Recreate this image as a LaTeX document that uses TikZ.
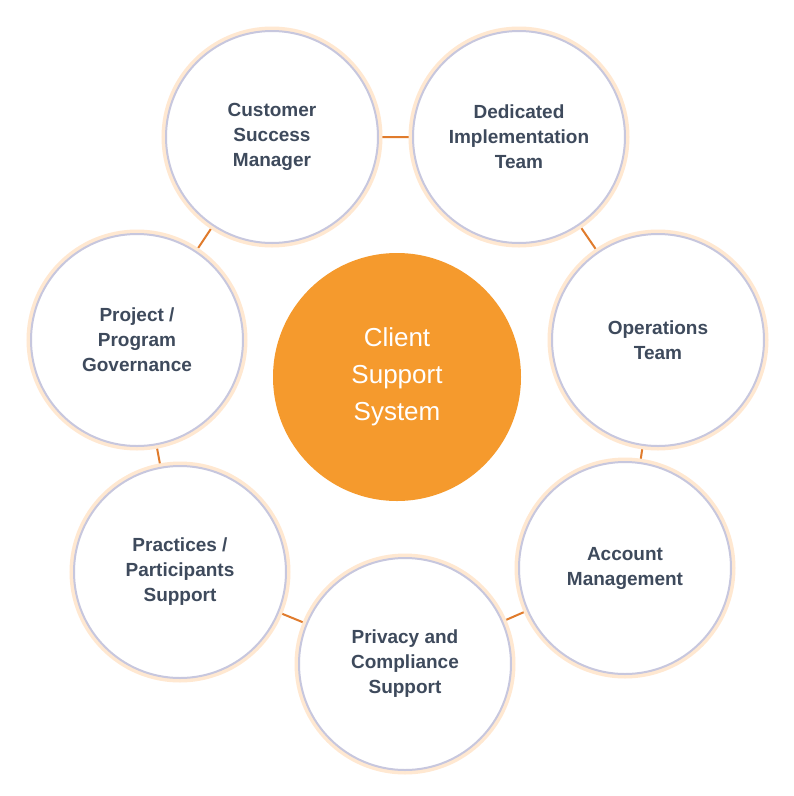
\documentclass[tikz,border=0pt]{standalone}
\usepackage{fontspec}
\setmainfont{Liberation Sans}
\begin{document}
\begin{tikzpicture}[x=1pt,y=-1pt,
  outer/.style={circle,minimum size=212pt,inner sep=0pt,fill=white,draw=blue!25!gray!35,line width=2pt,
    align=center,font=\bfseries\fontsize{19}{25}\selectfont,text=textc,
    preaction={draw=orange!18,line width=9pt}},
  link/.style={draw=linkc,line width=2pt}]
\definecolor{textc}{HTML}{3E4A5C}
\definecolor{linkc}{HTML}{E07B2C}
\definecolor{centc}{HTML}{F59A2D}
\useasboundingbox (0,0) rectangle (794,796);
\fill[white] (0,0) rectangle (794,796);
\coordinate (c1) at (272,137);
\coordinate (c2) at (519,137);
\coordinate (c3) at (658,340);
\coordinate (c4) at (625,568);
\coordinate (c5) at (405,664);
\coordinate (c6) at (180,572);
\coordinate (c7) at (137,340);
\draw[link] (c1)--(c2)--(c3)--(c4)--(c5)--(c6)--(c7)--cycle;
\node[outer] (n1) at (c1) {Customer\\Success\\Manager};
\node[outer] (n2) at (c2) {Dedicated\\Implementation\\Team};
\node[outer] (n3) at (c3) {Operations\\Team};
\node[outer] (n4) at (c4) {Account\\Management};
\node[outer] (n5) at (c5) {Privacy and\\Compliance\\Support};
\node[outer] (n6) at (c6) {Practices /\\Participants\\Support};
\node[outer] (n7) at (c7) {Project /\\Program\\Governance};
\node[circle,fill=centc,minimum size=248pt,inner sep=0pt,align=center,text=white,
  font=\fontsize{26}{37}\selectfont] (ctr) at (397,377) {Client\\Support\\System};
\end{tikzpicture}
\end{document}
